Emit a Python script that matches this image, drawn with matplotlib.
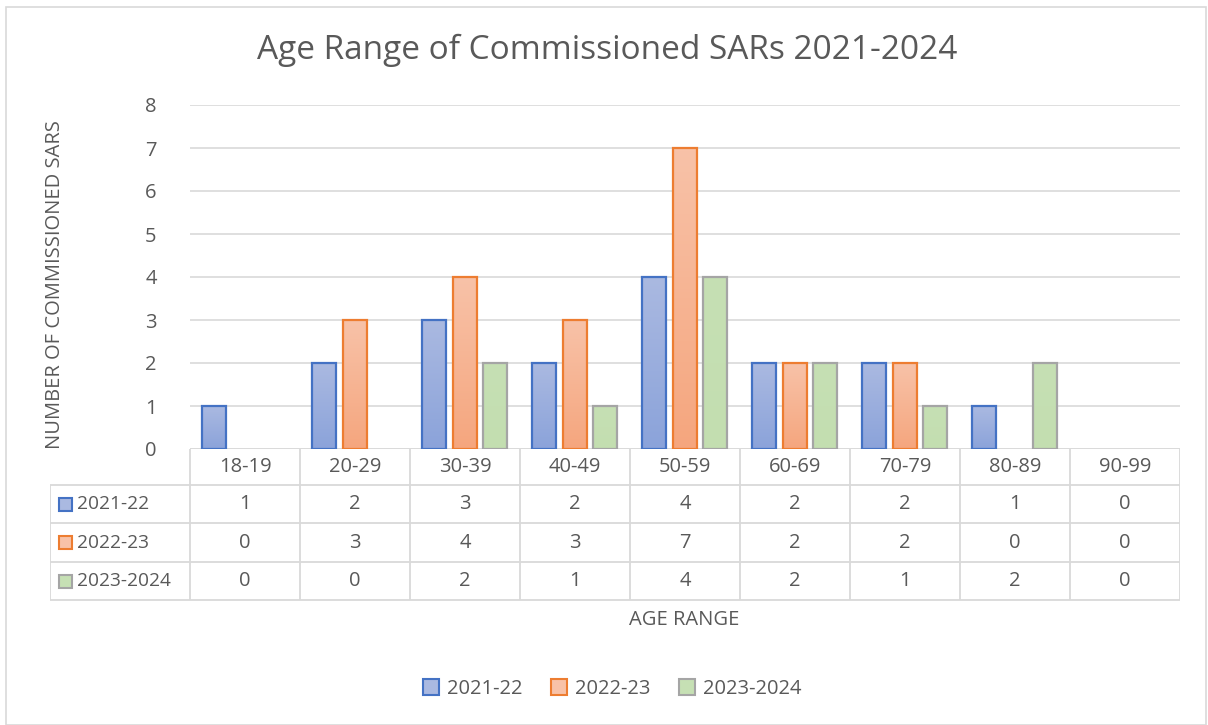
import numpy as np
import matplotlib.pyplot as plt
from matplotlib.patches import Rectangle
from matplotlib.colors import LinearSegmentedColormap
from matplotlib.lines import Line2D

plt.rcParams['font.family'] = ['Open Sans', 'DejaVu Sans']

# data
age_ranges = ["18-19", "20-29", "30-39", "40-49", "50-59", "60-69", "70-79", "80-89", "90-99"]
series_names = ["2021-22", "2022-23", "2023-2024"]
v_2021 = [1, 2, 3, 2, 4, 2, 2, 1, 0]
v_2022 = [0, 3, 4, 3, 7, 2, 2, 0, 0]
v_2023 = [0, 0, 2, 1, 4, 2, 1, 2, 0]
all_vals = [v_2021, v_2022, v_2023]

# styles: (top colour, bottom colour, edge colour)
styles = [("#AAB9E1", "#8BA3DA", "#4472C4"),
          ("#F8C2A8", "#F5A67E", "#ED7D31"),
          ("#C6E0B4", "#C3DEB0", "#A5A5A5")]
TXT = "#595959"
GRID = "#D9D9D9"
FS = 14.5

W, H = 1208, 725
fig = plt.figure(figsize=(W / 100, H / 100), dpi=100)


def fbox(x0, y0, x1, y1):
    # pixel box (top-left origin) -> figure fraction rect
    return [x0 / W, 1 - y1 / H, (x1 - x0) / W, (y1 - y0) / H]


# chart border
fig.patches.append(Rectangle((5.5 / W, 0.5 / H), (1206 - 5.5) / W, (718.5 - 0.5) / H,
                             transform=fig.transFigure, fill=False, edgecolor=GRID, lw=1.2))

ax = fig.add_axes(fbox(190, 105, 1180, 449))
n = len(age_ranges)
x = np.arange(n)
offsets = [-0.28, 0.0, 0.275]
bw = 0.215

for vals, off, (top, bot, edge) in zip(all_vals, offsets, styles):
    bars = ax.bar(x + off, vals, bw, facecolor="none", edgecolor=edge, linewidth=1.6, zorder=3)
    cmap = LinearSegmentedColormap.from_list("g", [bot, top])
    for b, v in zip(bars, vals):
        if v == 0:
            b.set_linewidth(0)
            continue
        grad = np.linspace(1, 0, 100).reshape(-1, 1)
        ax.imshow(grad, extent=[b.get_x(), b.get_x() + b.get_width(), 0, v],
                  cmap=cmap, aspect="auto", zorder=2, vmin=0, vmax=1)

ax.set_xlim(-0.5, n - 0.5)
ax.set_ylim(0, 8)
ax.set_yticks(range(0, 9))
ax.set_xticks([])
ax.tick_params(axis="y", length=0, labelsize=FS, labelcolor=TXT, pad=24)
ax.grid(axis="y", color=GRID, linewidth=1.2, zorder=0)
for s in ax.spines.values():
    s.set_visible(False)
ax.axhline(0, color=GRID, linewidth=1.2, zorder=1)

fig.text(55 / W, 1 - 285 / H, "NUMBER OF COMMISSIONED SARS", rotation=90,
         ha="center", va="center", fontsize=FS, color=TXT)
fig.text(607 / W, 1 - 50 / H, "Age Range of Commissioned SARs 2021-2024",
         ha="center", va="center", fontsize=24, color=TXT)

# data table below the chart
tx = fig.add_axes(fbox(50, 449, 1180, 601))
tx.set_xlim(50, 1180)
tx.set_ylim(601, 449)
tx.axis("off")
col_w = (1180 - 190) / n
rows_y = [449, 485, 523, 562, 600]
lk = dict(color=GRID, lw=1.3, solid_capstyle="butt")
for i in range(n + 1):
    xc = 190 + i * col_w
    tx.add_line(Line2D([xc, xc], [449, 600], **lk))
tx.add_line(Line2D([50, 50], [485, 600], **lk))
for yy in rows_y[1:]:
    tx.add_line(Line2D([50, 1180], [yy, yy], **lk))
for i, lab in enumerate(age_ranges):
    tx.text(190 + (i + 0.5) * col_w, (rows_y[0] + rows_y[1]) / 2, lab,
            ha="center", va="center", fontsize=FS, color=TXT)
for r, (name, vals, (top, bot, edge)) in enumerate(zip(series_names, all_vals, styles)):
    yc = (rows_y[r + 1] + rows_y[r + 2]) / 2
    tx.add_patch(Rectangle((59, yc - 6.5), 13, 13, facecolor=top, edgecolor=edge, lw=1.5))
    tx.text(77, yc, name, ha="left", va="center", fontsize=13.8, color=TXT)
    for i, v in enumerate(vals):
        tx.text(190 + (i + 0.5) * col_w, yc, str(v), ha="center", va="center",
                fontsize=FS, color=TXT)

fig.text(684 / W, 1 - 620 / H, "AGE RANGE", ha="center", va="center", fontsize=FS, color=TXT)

handles = [Rectangle((0, 0), 1, 1, facecolor=top, edgecolor=edge, lw=1.5) for top, bot, edge in styles]
leg = fig.legend(handles, series_names, loc="center", bbox_to_anchor=(612 / W, 1 - 689 / H),
                 ncol=3, frameon=False, fontsize=FS, handlelength=0.8, handleheight=0.8,
                 handletextpad=0.4, columnspacing=1.4)
for t in leg.get_texts():
    t.set_color(TXT)

fig.savefig("out.png", dpi=100)
